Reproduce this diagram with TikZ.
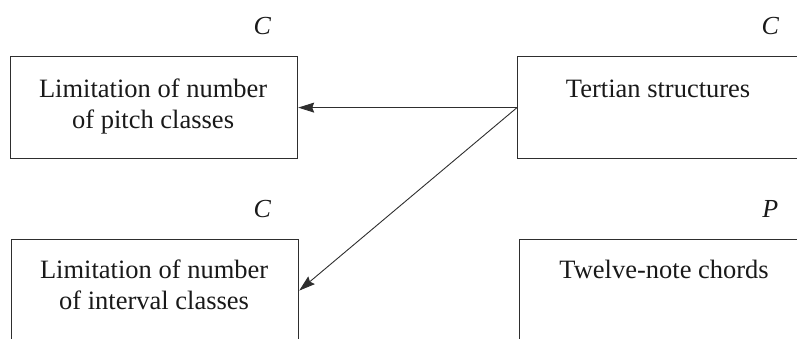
\documentclass[tikz,border=0pt]{standalone}
\usepackage{fontspec}
\setmainfont{Liberation Serif}
\usetikzlibrary{arrows.meta}
\definecolor{inkgray}{HTML}{2E2E2E}
\tikzset{
  box/.style={draw=inkgray, line width=1.2pt, minimum width=287pt,
    minimum height=102pt, inner sep=0pt, anchor=north west},
  boxtext/.style={anchor=base, align=center, inner sep=0pt,
    font=\fontsize{26.5}{31}\selectfont, text=black!90},
  tag/.style={anchor=base, inner sep=0pt,
    font=\fontsize{26}{31}\selectfont\itshape, text=black!90},
  arr/.style={draw=inkgray, line width=0.9pt,
    -{Stealth[length=16pt, width=10pt, inset=2pt]}}
}
\begin{document}
\begin{tikzpicture}[x=1pt, y=-1pt]
  \useasboundingbox (0,0) rectangle (797,338);

  % boxes
  \node[box] (pitch) at (10,56) {};
  \node[box] (tert) at (517,56) {};
  \node[box] (interval) at (11,239) {};
  \node[box] (twelve) at (519,239) {};

  % box texts (base anchor sits on the last line)
  \node[boxtext] (pitchtxt) at ([xshift=-1pt, yshift=-72pt]pitch.north)
    {Limitation of number\\of pitch classes};
  \node[boxtext] (terttxt) at ([xshift=-3pt, yshift=-41pt]tert.north)
    {Tertian structures};
  \node[boxtext] (intervaltxt) at ([xshift=-1pt, yshift=-70pt]interval.north)
    {Limitation of number\\of interval classes};
  \node[boxtext] (twelvetxt) at ([xshift=1pt, yshift=-39pt]twelve.north)
    {Twelve-note chords};

  % category tags
  \node[tag] (pitchtag) at ([xshift=-36pt, yshift=22pt]pitch.north east) {C};
  \node[tag] (terttag) at ([xshift=-35pt, yshift=22pt]tert.north east) {C};
  \node[tag] (intervaltag) at ([xshift=-37pt, yshift=22pt]interval.north east) {C};
  \node[tag] (twelvetag) at ([xshift=-37pt, yshift=22pt]twelve.north east) {P};

  % connectors
  \draw[arr] (tert.west) -- (pitch.east);
  \draw[arr] (tert.west) -- (interval.east);
\end{tikzpicture}
\end{document}
